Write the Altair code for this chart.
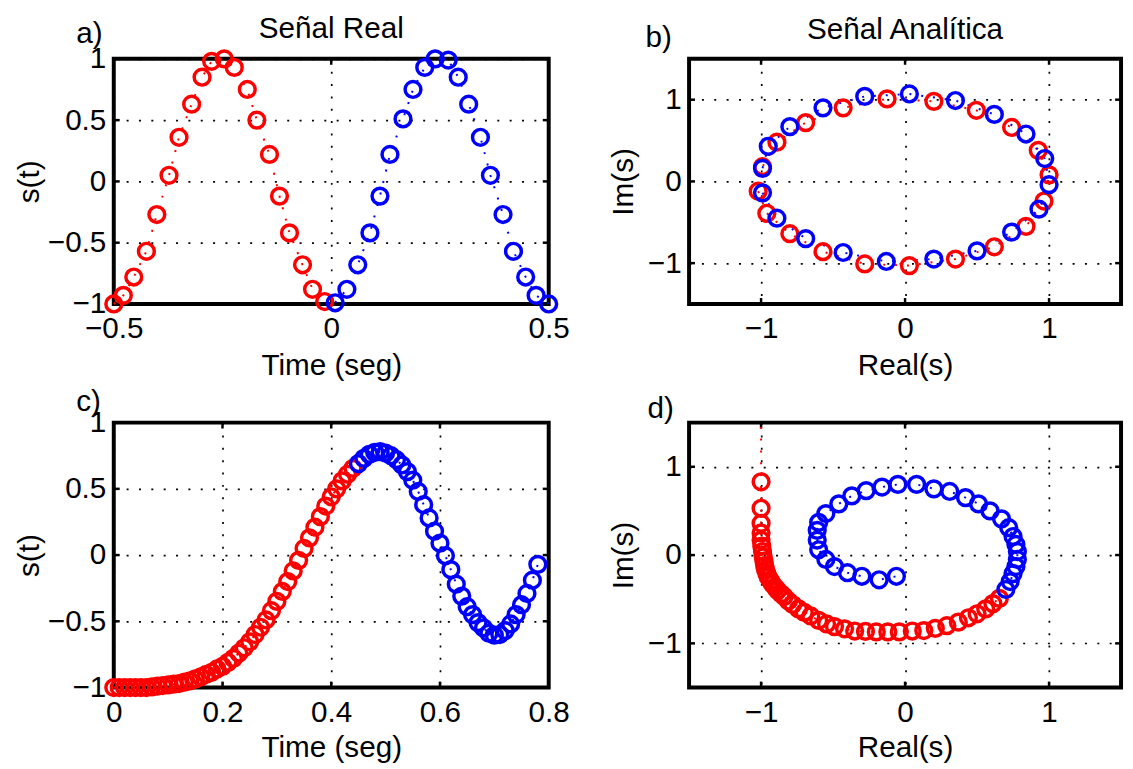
import altair as alt
import pandas as pd

FONT = "Liberation Sans"

# ---------------- data ----------------
# panel a) real signal
a_red_t = [-0.500, -0.478, -0.454, -0.425, -0.401, -0.373, -0.350, -0.321, -0.297, -0.275,
           -0.246, -0.223, -0.193, -0.171, -0.142, -0.119, -0.096, -0.066, -0.043, -0.015]
a_red_s = [-1.00, -0.93, -0.78, -0.57, -0.27, 0.05, 0.36, 0.63, 0.85, 0.98,
           1.00, 0.93, 0.75, 0.50, 0.22, -0.12, -0.42, -0.68, -0.88, -0.98]
a_blue_t = [0.009, 0.036, 0.061, 0.089, 0.112, 0.135, 0.165, 0.188, 0.215, 0.239,
            0.269, 0.292, 0.316, 0.343, 0.366, 0.395, 0.419, 0.447, 0.471, 0.500]
a_blue_s = [-0.99, -0.88, -0.68, -0.42, -0.12, 0.22, 0.51, 0.75, 0.93, 1.00,
            0.99, 0.85, 0.63, 0.36, 0.05, -0.27, -0.57, -0.78, -0.93, -1.00]

# panel b) analytic signal
b_red_re = [-1.02, -0.96, -0.80, -0.57, -0.28, 0.03, 0.35, 0.62, 0.84, 0.965,
            1.00, 0.925, 0.74, 0.495, 0.20, -0.125, -0.43, -0.69, -0.89, -0.99]
b_red_im = [-0.12, -0.39, -0.64, -0.86, -1.01, -1.03, -0.95, -0.80, -0.55, -0.24,
            0.08, 0.38, 0.66, 0.87, 0.98, 1.01, 0.90, 0.72, 0.48, 0.18]
b_blue_re = [-0.99, -0.89, -0.69, -0.43, -0.13, 0.20, 0.50, 0.74, 0.93, 1.00,
             0.97, 0.84, 0.62, 0.35, 0.03, -0.28, -0.57, -0.80, -0.95, -0.99]
b_blue_im = [-0.14, -0.45, -0.70, -0.87, -0.98, -0.95, -0.85, -0.62, -0.34, -0.04,
             0.28, 0.58, 0.82, 0.99, 1.07, 1.04, 0.90, 0.67, 0.43, 0.16]

# panel c) real signal (chirp)
c_red_t = [0.00, 0.01, 0.02, 0.03, 0.04, 0.05, 0.06, 0.07, 0.08, 0.09,
           0.10, 0.11, 0.12, 0.13, 0.14, 0.15, 0.16, 0.17, 0.18, 0.19,
           0.20, 0.21, 0.22, 0.23, 0.24, 0.25, 0.26, 0.27, 0.28, 0.29,
           0.30, 0.31, 0.32, 0.33, 0.34, 0.35, 0.36, 0.37, 0.38, 0.39,
           0.40, 0.41, 0.42, 0.43, 0.44]
c_red_s = [-1.00, -1.00, -1.00, -1.00, -1.00, -1.00, -1.00, -0.995, -0.99, -0.985,
           -0.98, -0.975, -0.97, -0.96, -0.95, -0.935, -0.92, -0.90, -0.885, -0.86,
           -0.84, -0.81, -0.78, -0.74, -0.70, -0.655, -0.60, -0.545, -0.49, -0.42,
           -0.35, -0.275, -0.20, -0.12, -0.04, 0.05, 0.13, 0.21, 0.29, 0.37,
           0.44, 0.50, 0.56, 0.61, 0.655]
c_blue_t = [0.45, 0.46, 0.47, 0.48, 0.49, 0.50, 0.51, 0.52, 0.53, 0.54,
            0.55, 0.56, 0.57, 0.58, 0.59, 0.60, 0.61, 0.62, 0.63, 0.64,
            0.65, 0.66, 0.67, 0.68, 0.69, 0.70, 0.71, 0.72, 0.73, 0.74,
            0.75, 0.76, 0.77, 0.78]
c_blue_s = [0.69, 0.73, 0.76, 0.775, 0.78, 0.77, 0.75, 0.72, 0.68, 0.63,
            0.565, 0.48, 0.38, 0.28, 0.18, 0.09, -0.005, -0.11, -0.22, -0.31,
            -0.39, -0.45, -0.51, -0.55, -0.59, -0.605, -0.60, -0.57, -0.52, -0.45,
            -0.375, -0.29, -0.19, -0.07]

# panel d) analytic signal (chirp); first two red points lie above the axes
d_red_re = [-1.00, -1.00, -1.00, -1.00, -1.00, -1.00, -1.00, -0.995, -0.99, -0.985,
            -0.98, -0.975, -0.97, -0.96, -0.95, -0.935, -0.92, -0.90, -0.885, -0.86,
            -0.84, -0.81, -0.78, -0.74, -0.70, -0.655, -0.60, -0.545, -0.49, -0.42,
            -0.35, -0.275, -0.20, -0.12, -0.04, 0.05, 0.13, 0.21, 0.29, 0.37,
            0.44, 0.50, 0.56, 0.61, 0.655]
d_red_im = [3.2, 1.8, 0.83, 0.53, 0.36, 0.25, 0.17, 0.10, 0.04, -0.02,
            -0.07, -0.12, -0.16, -0.21, -0.25, -0.29, -0.33, -0.37, -0.40, -0.44,
            -0.47, -0.52, -0.56, -0.61, -0.65, -0.69, -0.74, -0.78, -0.81, -0.835,
            -0.86, -0.865, -0.87, -0.87, -0.87, -0.86, -0.855, -0.83, -0.80, -0.76,
            -0.71, -0.665, -0.61, -0.55, -0.49]
d_blue_re = [0.70, 0.73, 0.75, 0.77, 0.78, 0.78, 0.77, 0.75, 0.72, 0.67,
             0.59, 0.51, 0.42, 0.31, 0.20, 0.08, -0.05, -0.16, -0.27, -0.37,
             -0.46, -0.55, -0.60, -0.61, -0.61, -0.60, -0.55, -0.49, -0.40, -0.30,
             -0.18, -0.06]
d_blue_im = [-0.39, -0.30, -0.21, -0.13, -0.05, 0.04, 0.12, 0.21, 0.31, 0.41,
             0.50, 0.58, 0.65, 0.72, 0.75, 0.80, 0.80, 0.77, 0.73, 0.67,
             0.58, 0.47, 0.37, 0.28, 0.17, 0.06, -0.05, -0.13, -0.20, -0.24,
             -0.28, -0.24]

# axes
time_ticks_a = [-0.5, 0, 0.5]
time_ticks_c = [0, 0.2, 0.4, 0.6, 0.8]
amp_ticks = [-1, -0.5, 0, 0.5, 1]
cplx_ticks = [-1, 0, 1]
panel_labels = ["a)", "b)", "c)", "d)"]
panel_titles = ["Señal Real", "Señal Analítica"]

SERIES = ["rojo", "azul"]
COLORS = ["#ff0000", "#0000ff"]


def frame(xr, yr, xb, yb):
    rows = []
    for i, (x, y) in enumerate(zip(xr, yr)):
        rows.append({"x": x, "y": y, "series": SERIES[0], "idx": i})
    for i, (x, y) in enumerate(zip(xb, yb)):
        rows.append({"x": x, "y": y, "series": SERIES[1], "idx": i})
    return pd.DataFrame(rows)


def text_layer(txt, dx, dy, align):
    return alt.Chart(pd.DataFrame({"t": [txt]})).mark_text(
        align=align, baseline="top", fontSize=30, font=FONT, color="black"
    ).encode(x=alt.value(dx), y=alt.value(dy), text="t:N")


def panel(df, xdom, ydom, xticks, yticks, w, h, xtitle, ytitle, label,
          lab_dx, lab_dy, xt_y, yt_x, title=None, title_dy=-45, clip=False):
    xs = alt.Scale(domain=xdom, nice=False, zero=False)
    ys = alt.Scale(domain=ydom, nice=False, zero=False)
    common = dict(grid=True, gridDash=[2, 10.5], gridColor="black", gridWidth=1.7,
                  gridOpacity=1, domain=False, ticks=False, tickSize=0,
                  labelFontSize=30, labelFont=FONT, labelColor="black",
                  labelFlush=False, labelOverlap=False, format="~g",
                  titleFontSize=30, titleFont=FONT, titleFontWeight="normal",
                  titleColor="black", titleAlign="center", titleBaseline="alphabetic")
    xaxis = alt.Axis(values=xticks, title=xtitle, labelPadding=10,
                     titleX=w / 2, titleY=xt_y, **common)
    yaxis = alt.Axis(values=yticks, title=ytitle, labelPadding=8,
                     titleX=yt_x, titleY=h / 2, titleAngle=270, **common)
    X = alt.X("x:Q", scale=xs, axis=xaxis)
    Y = alt.Y("y:Q", scale=ys, axis=yaxis)
    col = alt.Color("series:N", scale=alt.Scale(domain=SERIES, range=COLORS), legend=None)

    xt = pd.DataFrame({"x": xticks})
    yt = pd.DataFrame({"y": yticks})
    tk = dict(color="black", strokeWidth=2.5)
    t1 = alt.Chart(xt).mark_rule(**tk).encode(x=X, y=alt.value(0), y2=alt.value(6))
    t2 = alt.Chart(xt).mark_rule(**tk).encode(x=X, y=alt.value(h), y2=alt.value(h - 6))
    t3 = alt.Chart(yt).mark_rule(**tk).encode(y=Y, x=alt.value(0), x2=alt.value(6))
    t4 = alt.Chart(yt).mark_rule(**tk).encode(y=Y, x=alt.value(w), x2=alt.value(w - 6))

    base = alt.Chart(df)
    line = base.mark_line(strokeDash=[2, 10], strokeWidth=2, clip=clip).encode(
        x=X, y=Y, color=col, detail="series:N", order="idx:Q")
    pts = base.mark_point(shape="circle", filled=False, size=255, strokeWidth=3.5,
                          opacity=1, clip=clip).encode(x=X, y=Y, color=col)
    layers = [t1, t2, t3, t4, line, pts, text_layer(label, lab_dx, lab_dy, "left")]
    if title is not None:
        layers.append(text_layer(title, w / 2, title_dy, "center"))
    return alt.layer(*layers).properties(width=w, height=h)


W1, W2, H1, H2 = 440, 437, 248, 268

pa = panel(frame(a_red_t, a_red_s, a_blue_t, a_blue_s), [-0.5, 0.5], [-1, 1],
           time_ticks_a, amp_ticks, W1, H1, "Time (seg)", "s(t)", panel_labels[0],
           -38, -40, 71, -76, title=panel_titles[0], title_dy=-45)
pb = panel(frame(b_red_re, b_red_im, b_blue_re, b_blue_im), [-1.5, 1.5], [-1.5, 1.5],
           cplx_ticks, cplx_ticks, W2, H1, "Real(s)", "Im(s)", panel_labels[1],
           -44, -36, 71, -57, title=panel_titles[1], title_dy=-44)
pc = panel(frame(c_red_t, c_red_s, c_blue_t, c_blue_s), [0, 0.8], [-1, 1],
           time_ticks_c, amp_ticks, W1, H2, "Time (seg)", "s(t)", panel_labels[2],
           -38, -36, 70, -76)
pd_ = panel(frame(d_red_re, d_red_im, d_blue_re, d_blue_im), [-1.5, 1.5], [-1.5, 1.5],
            cplx_ticks, cplx_ticks, W2, H2, "Real(s)", "Im(s)", panel_labels[3],
            -42, -29, 70, -57, clip=True)

chart = alt.concat(pa, pb, pc, pd_, columns=2, spacing={"row": 120, "column": 142},
                   bounds="flush").properties(
    padding={"left": 5, "top": 0, "right": 0, "bottom": 0},
    background="white",
).configure_view(stroke="black", strokeWidth=4)

chart.save("out.html", embed_options={"renderer": "svg", "actions": False})
